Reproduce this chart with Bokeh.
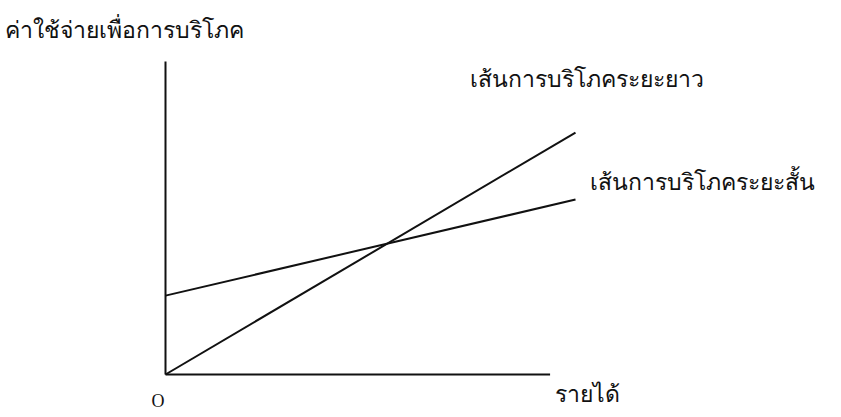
from bokeh.plotting import figure
from bokeh.models import Range1d, ColumnDataSource
from bokeh.core.properties import value
from bokeh.embed import file_html
from bokeh.resources import INLINE

# ---- data (conceptual units) ----
income = [0, 10]                 # income (x)
long_run = [0, 7.73]             # long-run consumption line C = b*Y
short_run = [2.52, 5.59]         # short-run consumption line C = a + c*Y
x_axis_end = 9.38                # length of the income axis
y_axis_top = 10.0                # length of the consumption axis

y_title = "ค่าใช้จ่ายเพื่อการบริโภค"
x_title = "รายได้"
long_label = "เส้นการบริโภคระยะยาว"
short_label = "เส้นการบริโภคระยะสั้น"
origin_label = "O"

# ---- layout ----
W, H = 825, 409
X0_PX, Y0_PX = 165, 374          # canvas position of the origin (from left / top)
XU, YU = 41.0, 31.3              # pixels per unit

p = figure(width=W, height=H, output_backend="svg", toolbar_location=None,
           x_range=Range1d(-X0_PX / XU, (W - X0_PX) / XU),
           y_range=Range1d(-(H - Y0_PX) / YU, Y0_PX / YU),
           min_border=0, outline_line_color=None)
p.axis.visible = False
p.grid.visible = False
p.background_fill_color = "white"
p.border_fill_color = "white"

ink = "#111111"
# axes drawn as lines from origin
p.line([0, 0], [0, y_axis_top], line_color=ink, line_width=2)
p.line([0, x_axis_end], [0, 0], line_color=ink, line_width=2)
# consumption lines
p.line(income, long_run, line_color=ink, line_width=2)
p.line(income, short_run, line_color=ink, line_width=2)

thai_font = value("Liberation Serif")
def px_x(px):
    return (px - X0_PX) / XU
def px_y(py):
    return (Y0_PX - py) / YU

labels = ColumnDataSource(dict(
    x=[px_x(4), px_x(469), px_x(589)],
    y=[px_y(30), px_y(79), px_y(182)],
    t=[y_title, long_label, short_label],
))
p.text(x="x", y="y", text="t", source=labels, text_font=thai_font,
       text_font_size="23px", text_color=ink, text_baseline="alphabetic",
       text_align="left")
p.text(x=[px_x(554)], y=[px_y(406)], text=[x_title], text_font=thai_font,
       text_font_size="23px", text_color=ink, text_baseline="bottom",
       text_align="left")
p.text(x=[px_x(151)], y=[px_y(400)], text=[origin_label],
       text_font=value("Liberation Serif"), text_font_size="18px",
       text_color=ink, text_baseline="alphabetic", text_align="left")

open("out.html", "w").write(file_html(p, INLINE))
